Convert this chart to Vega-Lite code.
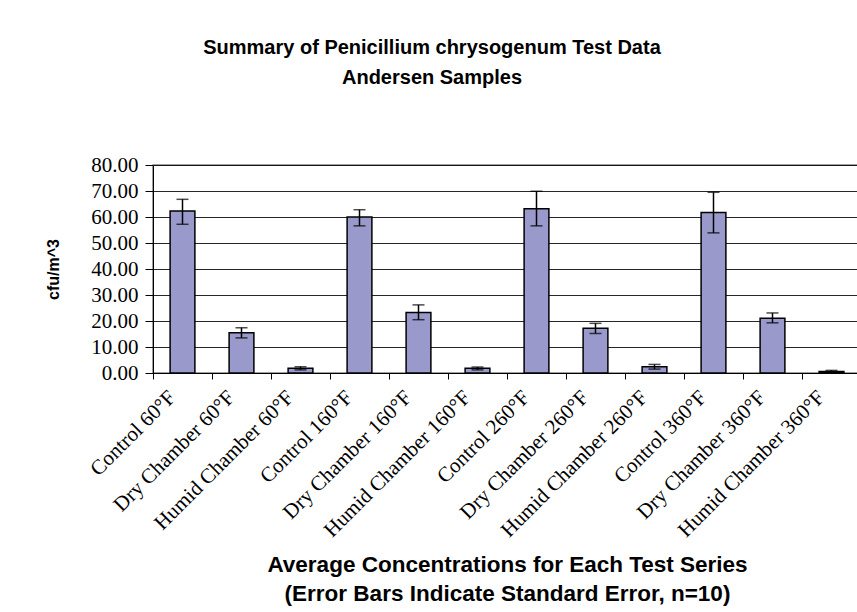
{
  "$schema": "https://vega.github.io/schema/vega-lite/v6.json",
  "autosize": {"type": "none"},
  "padding": {"left": 153, "top": 165, "right": 0, "bottom": 239},
  "width": 708,
  "height": 208,
  "background": "white",
  "title": {
    "text": ["Summary of Penicillium chrysogenum Test Data", "Andersen Samples"],
    "font": "Liberation Sans",
    "fontSize": 20,
    "fontWeight": "bold",
    "color": "black",
    "lineHeight": 30,
    "anchor": "middle",
    "dx": -75,
    "offset": 66
  },
  "data": {
    "values": [
      {"series": "Control 60°F", "mean": 62.3, "lo": 57.2, "hi": 66.8},
      {"series": "Dry Chamber 60°F", "mean": 15.5, "lo": 13.5, "hi": 17.4},
      {"series": "Humid Chamber 60°F", "mean": 1.8, "lo": 1.2, "hi": 2.4},
      {"series": "Control 160°F", "mean": 60.0, "lo": 56.6, "hi": 62.8},
      {"series": "Dry Chamber 160°F", "mean": 23.3, "lo": 20.5, "hi": 26.2},
      {"series": "Humid Chamber 160°F", "mean": 1.8, "lo": 1.2, "hi": 2.3},
      {"series": "Control 260°F", "mean": 63.2, "lo": 56.6, "hi": 69.9},
      {"series": "Dry Chamber 260°F", "mean": 17.2, "lo": 15.2, "hi": 19.1},
      {"series": "Humid Chamber 260°F", "mean": 2.4, "lo": 1.5, "hi": 3.3},
      {"series": "Control 360°F", "mean": 61.7, "lo": 53.9, "hi": 69.5},
      {"series": "Dry Chamber 360°F", "mean": 21.1, "lo": 19.3, "hi": 23.1},
      {"series": "Humid Chamber 360°F", "mean": 0.6, "lo": 0.2, "hi": 1.0}
    ]
  },
  "encoding": {
    "x": {
      "field": "series",
      "type": "nominal",
      "sort": null,
      "scale": {"paddingInner": 0, "paddingOuter": 0},
      "axis": {
        "title": ["Average Concentrations for Each Test Series", "(Error Bars Indicate Standard Error, n=10)"],
        "bandPosition": 0,
        "labelOffset": -10,
        "labelAngle": -45,
        "labelAlign": "right",
        "labelBaseline": "middle",
        "labelPadding": 15,
        "labelFont": "Liberation Serif",
        "labelFontSize": 21,
        "labelColor": "black",
        "labelOverlap": false,
        "labelBound": false,
        "labelLimit": 0,
        "tickSize": 6,
        "tickColor": "black",
        "domainColor": "black",
        "titleFont": "Liberation Sans",
        "titleFontSize": 22.5,
        "titleFontWeight": "bold",
        "titleColor": "black",
        "titleLineHeight": 29,
        "titlePadding": 13
      }
    }
  },
  "layer": [
    {
      "mark": {"type": "bar", "fill": "#9999CC", "stroke": "black", "strokeWidth": 1.5, "width": {"band": 0.42}},
      "encoding": {
        "y": {
          "field": "mean",
          "type": "quantitative",
          "title": "cfu/m^3",
          "scale": {"domain": [0, 80], "nice": false},
          "axis": {
            "tickCount": 8,
            "tickMinStep": 10,
            "format": ".2f",
            "grid": true,
            "gridColor": "black",
            "gridOpacity": 0.85,
            "domainColor": "black",
            "tickColor": "black",
            "tickSize": 8,
            "labelPadding": 7,
            "labelOverlap": false,
            "labelFont": "Liberation Serif",
            "labelFontSize": 21,
            "labelColor": "black",
            "titleFont": "Liberation Sans",
            "titleFontSize": 16,
            "titleFontWeight": "bold",
            "titleColor": "black",
            "titlePadding": 29
          }
        }
      }
    },
    {
      "mark": {"type": "rule", "color": "black", "strokeWidth": 1.5},
      "encoding": {
        "y": {"field": "lo", "type": "quantitative", "title": "cfu/m^3"},
        "y2": {"field": "hi"}
      }
    },
    {
      "mark": {"type": "tick", "color": "black", "size": 12, "thickness": 1.5, "orient": "horizontal"},
      "encoding": {
        "y": {"field": "lo", "type": "quantitative", "title": "cfu/m^3"}
      }
    },
    {
      "mark": {"type": "tick", "color": "black", "size": 12, "thickness": 1.5, "orient": "horizontal"},
      "encoding": {
        "y": {"field": "hi", "type": "quantitative", "title": "cfu/m^3"}
      }
    }
  ],
  "config": {
    "view": {"stroke": "#808080", "strokeWidth": 1.5}
  }
}
